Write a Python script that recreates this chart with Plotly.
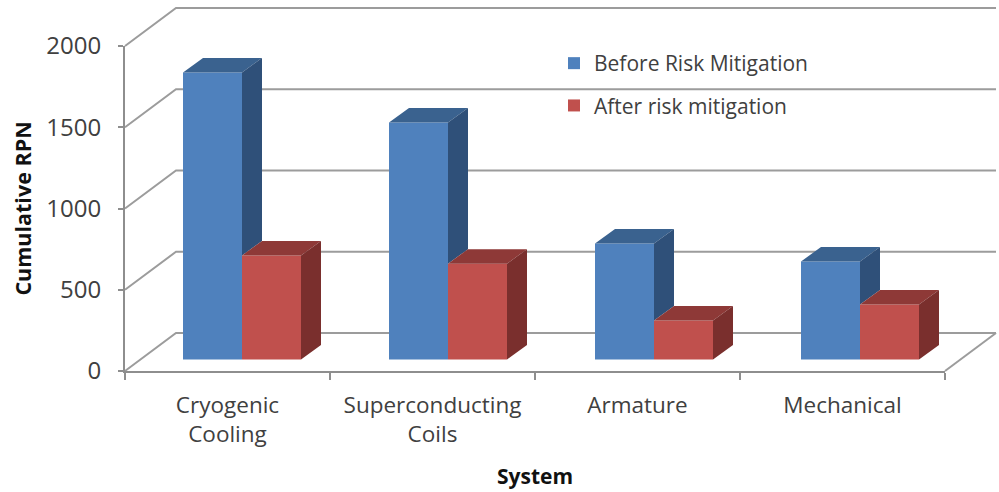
import plotly.graph_objects as go

categories = ["Cryogenic<br>Cooling", "Superconducting<br>Coils", "Armature", "Mechanical"]
before_values = [1766, 1458, 714, 603]
after_values = [640, 590, 240, 338]
y_ticks = [0, 500, 1000, 1500, 2000]

W, H = 999, 492
X0, X1, Y0, Y1 = 125, 945, 371, 46          # axis frame in figure pixels
PX_X = (X1 - X0) / len(categories)          # pixels per category
PX_Y = (Y0 - Y1) / 2000                     # pixels per value unit


def ux(px):
    return px / PX_X


def uy(px):
    return px / PX_Y


WALL_DX, WALL_DY = 51, 38
BAR_W = ux(59)
BAR_FIRST = 0.5 + ux(14.5)                  # boundary of the two bars in the first group
BAR_PITCH = ux(206)
BAR_BASE = uy(11.5)
BAR_DX, BAR_DY = ux(20), uy(14.5)
GRID = "#9C9C9C"
AXIS = "#8E8E8E"
TEXT = "#404040"
FONT = "Open Sans"

centers = [i + 0.5 for i in range(len(categories))]
mids = [BAR_FIRST + i * BAR_PITCH for i in range(len(categories))]


def paper_x(px):
    return px / W


def paper_y(px):
    return 1 - px / H


# Walls and floor as paper-referenced shapes beneath the traces
wall_paths = []
for t in y_ticks:
    yf = Y0 - t * PX_Y
    wall_paths.append([(X0, yf), (X0 + WALL_DX, yf - WALL_DY), (X1 + WALL_DX, yf - WALL_DY)])
wall_paths.append([(X1, Y0), (X1 + WALL_DX, Y0 - WALL_DY)])

shapes = []
for p in wall_paths:
    d = "M " + " L ".join(f"{paper_x(a):.5f},{paper_y(b):.5f}" for a, b in p)
    shapes.append(dict(type="path", path=d, xref="paper", yref="paper", layer="below",
                       line=dict(color=GRID, width=2)))


def poly(x, y, color):
    return go.Scatter(x=x, y=y, mode="lines", fill="toself", fillcolor=color,
                      line=dict(width=0, color=color), hoverinfo="skip",
                      showlegend=False, cliponaxis=False)


def bars(name, values, shift, color):
    return go.Bar(name=name, x=[m + shift for m in mids], y=values,
                  base=[BAR_BASE] * len(values), width=BAR_W, offset=0,
                  marker=dict(color=color, line=dict(width=0)), legendgroup=name,
                  cliponaxis=False)


# Blue tops and the part of the blue sides that shows above the red bars
btx, bty, bsx, bsy = [], [], [], []
rtx, rty, rsx, rsy = [], [], [], []
for m, b, a in zip(mids, before_values, after_values):
    l, r = m - BAR_W, m + BAR_W
    bt, at = BAR_BASE + b, BAR_BASE + a
    btx += [l, l + BAR_DX, m + BAR_DX, m, l, None]
    bty += [bt, bt + BAR_DY, bt + BAR_DY, bt, bt, None]
    bsx += [m, m + BAR_DX, m + BAR_DX, m, m, None]
    bsy += [bt, bt + BAR_DY, at + BAR_DY, at, bt, None]
    rtx += [m, m + BAR_DX, r + BAR_DX, r, m, None]
    rty += [at, at + BAR_DY, at + BAR_DY, at, at, None]
    rsx += [r, r + BAR_DX, r + BAR_DX, r, r, None]
    rsy += [at, at + BAR_DY, BAR_BASE + BAR_DY, BAR_BASE, at, None]

fig = go.Figure()
fig.add_trace(bars("Before Risk Mitigation", before_values, -BAR_W, "#4F81BD"))
fig.add_trace(bars("After risk mitigation", after_values, 0, "#C0504D"))
fig.add_trace(poly(btx, bty, "#3A628F"))
fig.add_trace(poly(bsx, bsy, "#2F5079"))
fig.add_trace(poly(rtx, rty, "#8E3937"))
fig.add_trace(poly(rsx, rsy, "#7A2F2D"))

fig.update_layout(
    width=W, height=H, margin=dict(l=0, r=0, t=0, b=0, autoexpand=False),
    paper_bgcolor="white", plot_bgcolor="rgba(0,0,0,0)",
    barmode="overlay", shapes=shapes,
    font=dict(family=FONT, size=22, color=TEXT),
    legend=dict(x=554 / W, y=1 - 43 / H, xanchor="left", yanchor="top",
                bgcolor="rgba(0,0,0,0)", tracegroupgap=12,
                font=dict(size=21, color=TEXT), traceorder="grouped"),
    xaxis=dict(domain=[X0 / W, X1 / W], range=[0, len(categories)], showgrid=False, zeroline=False,
               tickmode="array", tickvals=centers, ticktext=categories, ticks="",
               showline=True, linecolor=AXIS, linewidth=2,
               minor=dict(tickmode="array", tickvals=list(range(len(categories) + 1)),
                          ticks="outside", ticklen=7, tickwidth=2, tickcolor=AXIS, showgrid=False),
               tickfont=dict(size=22.5), ticklabelstandoff=13,
               title=dict(text="<b>System</b>", font=dict(size=21, color="#111111"), standoff=21)),
    yaxis=dict(domain=[(H - Y0) / H, (H - Y1) / H], range=[0, 2000], showgrid=False, zeroline=False,
               tickmode="array", tickvals=y_ticks, ticks="outside", ticklen=5, tickwidth=2,
               tickcolor=AXIS, showline=True, linecolor=AXIS, linewidth=2,
               tickfont=dict(size=24), ticklabelstandoff=12,
               title=dict(text="<b>Cumulative RPN</b>", font=dict(size=21.5, color="#111111"), standoff=9)),
)

fig.write_html("out.html", default_width=f"{W}px", default_height=f"{H}px",
               config={"displayModeBar": False},
               post_script="document.body.style.margin='0';")
